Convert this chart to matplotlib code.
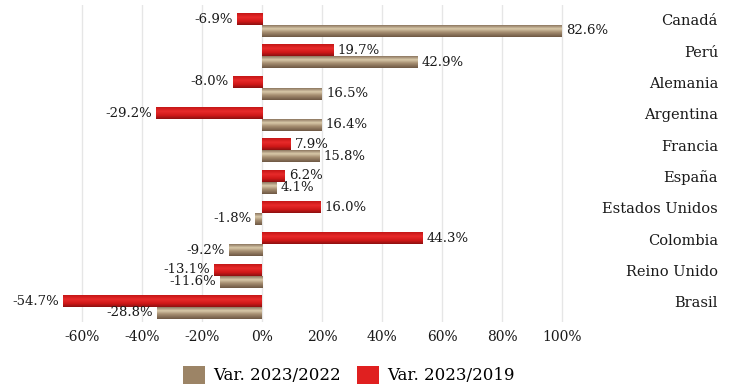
import numpy as np
from matplotlib import pyplot as plt
from matplotlib.colors import LinearSegmentedColormap
from matplotlib.patches import Patch
from matplotlib.transforms import blended_transform_factory

COUNTRIES = ["Canadá", "Perú", "Alemania", "Argentina", "Francia", "España",
             "Estados Unidos", "Colombia", "Reino Unido", "Brasil"]
VAR_2022 = [82.6, 42.9, 16.5, 16.4, 15.8, 4.1, -1.8, -9.2, -11.6, -28.8]
VAR_2019 = [-6.9, 19.7, -8.0, -29.2, 7.9, 6.2, 16.0, 44.3, -13.1, -54.7]
TICKS = [-60, -40, -20, 0, 20, 40, 60, 80, 100]
# tick labels run on a scale 1.21 times the bar units
AXIS_STRETCH = 1.21

TAN = LinearSegmentedColormap.from_list(
    "tan", [(0, "#8c7660"), (0.3, "#d9c9a9"), (0.6, "#a58d70"), (1, "#6e5844")])
RED = LinearSegmentedColormap.from_list(
    "red", [(0, "#c41616"), (0.35, "#e82a2a"), (0.7, "#d01818"), (1, "#8c1010")])

plt.rcParams["font.family"] = ["DejaVu Serif"]


def shaded_bars(ax, ys, values, height, cmap):
    bars = ax.barh(ys, values, height=height, color="none", edgecolor="none", zorder=3)
    grad = np.linspace(0, 1, 64).reshape(-1, 1)
    for bar in bars:
        x0, y0 = bar.get_x(), bar.get_y()
        w, h = bar.get_width(), bar.get_height()
        # y axis is inverted, so row 0 (top colour) lands on the upper edge
        im = ax.imshow(grad, cmap=cmap, aspect="auto", origin="lower",
                       extent=[x0, x0 + w, y0, y0 + h], zorder=3)
        im.set_clip_path(bar)
    return bars


def label_bars(ax, ys, values):
    for y, v in zip(ys, values):
        ax.annotate("{:.1f}%".format(v), (v, y), xytext=(3 if v >= 0 else -3, 0),
                    textcoords="offset points", ha="left" if v >= 0 else "right",
                    va="center", fontsize=9.5, color="#1a1a1a", zorder=4)


def main():
    fig = plt.figure(figsize=(7.35, 3.89), dpi=100)
    ax = fig.add_axes([30 / 735, 1 - 322 / 389, 570 / 735, 317 / 389])

    y = np.arange(len(COUNTRIES))
    h = 0.38
    shaded_bars(ax, y - h / 2, VAR_2019, h, RED)
    shaded_bars(ax, y + h / 2, VAR_2022, h, TAN)
    label_bars(ax, y - h / 2, VAR_2019)
    label_bars(ax, y + h / 2, VAR_2022)

    ax.set_xlim(-63.9, 93.1)
    ax.set_ylim(9.48, -0.64)
    ax.set_xticks([t / AXIS_STRETCH for t in TICKS])
    ax.set_xticklabels(["{}%".format(t) for t in TICKS], fontsize=10, color="#1a1a1a")
    ax.set_yticks([])
    ax.tick_params(axis="x", length=0, pad=6)
    ax.grid(axis="x", color="#e6e6e6", lw=1, zorder=0)
    for s in ax.spines.values():
        s.set_visible(False)

    trans = blended_transform_factory(fig.transFigure, ax.transData)
    for i, name in enumerate(COUNTRIES):
        ax.text(718 / 735, i - 0.12, name, transform=trans, ha="right", va="center",
                fontsize=10.5, color="#1a1a1a")

    handles = [Patch(facecolor="#9c8466", label="Var. 2023/2022"),
               Patch(facecolor="#e02020", label="Var. 2023/2019")]
    fig.legend(handles=handles, loc="center", bbox_to_anchor=(349 / 735, 1 - 375 / 389),
               ncol=2, frameon=False, fontsize=12, handlelength=1.3, handleheight=1.3,
               handletextpad=0.5, columnspacing=1.0)

    fig.savefig("out.png", dpi=100)


if __name__ == '__main__':
    main()
